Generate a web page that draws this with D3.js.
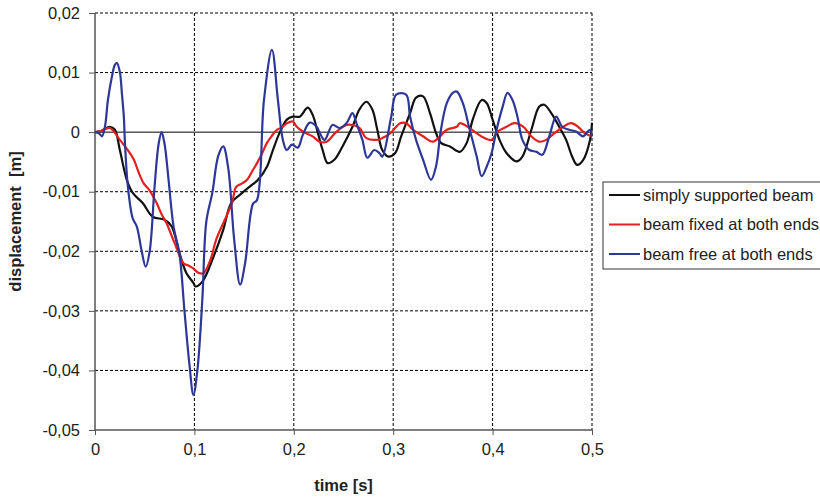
<!DOCTYPE html>
<html>
<head>
<meta charset="utf-8">
<script src="https://cdn.jsdelivr.net/npm/d3@7"></script>
<style>
  body { margin: 0; background: #fff; }
  text { font-family: "Liberation Sans", Arial, sans-serif; fill: #222; }
</style>
</head>
<body>
<div id="chart"></div>
<script>
// time [s] / displacement [m]
const simplySupported = [
  [0, 0], [0.006, 0.0002], [0.015, 0.0009], [0.020, 0.0004], [0.025, -0.003],
  [0.032, -0.008], [0.038, -0.0102], [0.048, -0.0119], [0.058, -0.0142],
  [0.070, -0.0147], [0.077, -0.0158], [0.085, -0.0203], [0.092, -0.0237],
  [0.099, -0.0253], [0.101, -0.0259], [0.108, -0.0251], [0.119, -0.021],
  [0.129, -0.0164], [0.137, -0.0119], [0.146, -0.0105], [0.156, -0.0091],
  [0.164, -0.008], [0.173, -0.0058], [0.179, -0.003], [0.186, 0], [0.193, 0.0021],
  [0.199, 0.0026], [0.206, 0.0026], [0.214, 0.0041], [0.219, 0.0029], [0.224, 0],
  [0.229, -0.003], [0.234, -0.0052], [0.241, -0.0046], [0.249, -0.0024],
  [0.259, 0.0009], [0.266, 0.0038], [0.273, 0.0051], [0.279, 0.0038],
  [0.284, 0.0004], [0.289, -0.003], [0.295, -0.0041], [0.302, -0.0035],
  [0.308, -0.0007], [0.317, 0.0032], [0.323, 0.0058], [0.330, 0.006],
  [0.337, 0.0032], [0.343, -0.0001], [0.348, -0.0018], [0.357, -0.0024],
  [0.367, -0.0033], [0.374, -0.0018], [0.380, 0.0021], [0.389, 0.0054],
  [0.394, 0.0049], [0.400, 0.0021], [0.407, -0.0013], [0.414, -0.0035],
  [0.424, -0.0049], [0.430, -0.0041], [0.439, 0.0004], [0.447, 0.0043],
  [0.452, 0.0046], [0.459, 0.0032], [0.467, 0.0009], [0.474, -0.0013],
  [0.480, -0.0041], [0.485, -0.0055], [0.491, -0.0047], [0.498, -0.0013],
  [0.5, 0.0016]
];

const fixedBothEnds = [
  [0, 0], [0.006, 0.0002], [0.015, 0.0007], [0.025, -0.0013], [0.032, -0.0028],
  [0.039, -0.0046], [0.044, -0.0068], [0.049, -0.0086], [0.055, -0.0098],
  [0.062, -0.0119], [0.067, -0.0138], [0.072, -0.0153], [0.080, -0.0186],
  [0.089, -0.022], [0.094, -0.0224], [0.099, -0.0229], [0.104, -0.0236],
  [0.109, -0.0237], [0.116, -0.0215], [0.122, -0.018], [0.132, -0.0142],
  [0.138, -0.0118], [0.142, -0.0092], [0.148, -0.0086], [0.153, -0.008],
  [0.158, -0.0066], [0.163, -0.0052], [0.168, -0.0036], [0.173, -0.0018],
  [0.178, -0.0006], [0.183, 0.0004], [0.188, 0.0008], [0.193, 0.0015],
  [0.199, 0.0018], [0.203, 0.0009], [0.209, 0.0001], [0.219, -0.0007],
  [0.226, -0.0016], [0.233, -0.0016], [0.243, 0.0001], [0.253, 0.0012],
  [0.259, 0.0012], [0.266, 0.0007], [0.273, -0.001], [0.283, -0.0013],
  [0.289, -0.001], [0.297, -0.0002], [0.307, 0.0015], [0.313, 0.0015],
  [0.320, 0.0004], [0.330, -0.0007], [0.340, -0.0016], [0.347, -0.0007],
  [0.354, 0.0004], [0.364, 0.0009], [0.367, 0.0015], [0.375, 0.0009],
  [0.384, -0.0002], [0.392, -0.001], [0.399, -0.0013], [0.405, 0.0001],
  [0.414, 0.0009], [0.422, 0.0015], [0.431, 0.0009], [0.439, -0.0007],
  [0.447, -0.0016], [0.454, -0.0013], [0.462, -0.0002], [0.471, 0.0009],
  [0.479, 0.0015], [0.486, 0.0009], [0.493, -0.0002], [0.5, -0.0007]
];

const freeBothEnds = [
  [0, 0], [0.004, -0.0002], [0.007, -0.0007], [0.010, 0.0009], [0.013, 0.0054],
  [0.017, 0.0093], [0.020, 0.0113], [0.022, 0.0116], [0.025, 0.0101],
  [0.027, 0.0066], [0.029, 0.0026], [0.030, -0.0013], [0.033, -0.009],
  [0.038, -0.0145], [0.042, -0.0158], [0.047, -0.020], [0.051, -0.0226],
  [0.055, -0.020], [0.060, -0.009], [0.064, -0.002], [0.067, 0.0],
  [0.070, -0.002], [0.074, -0.008], [0.079, -0.0158], [0.085, -0.0205],
  [0.090, -0.030], [0.095, -0.039], [0.099, -0.0441], [0.103, -0.040],
  [0.108, -0.028], [0.112, -0.015], [0.118, -0.0102], [0.124, -0.004],
  [0.129, -0.0024], [0.134, -0.006], [0.140, -0.018], [0.146, -0.0256],
  [0.151, -0.022], [0.159, -0.012], [0.163, -0.0114], [0.170, 0.0054],
  [0.178, 0.0138], [0.184, 0.0054], [0.189, -0.0013], [0.193, -0.003],
  [0.198, -0.0021], [0.204, -0.0026], [0.209, -0.0005], [0.216, 0.0016],
  [0.223, 0.0009], [0.226, -0.0001], [0.231, -0.0013], [0.239, 0.0012],
  [0.246, 0.0007], [0.253, 0.0015], [0.259, 0.0032], [0.263, 0.0015],
  [0.269, -0.0013], [0.274, -0.0043], [0.281, -0.003], [0.286, -0.0035],
  [0.289, -0.0041], [0.298, 0.0026], [0.303, 0.0063], [0.313, 0.0063],
  [0.317, 0.0026], [0.323, -0.0013], [0.330, -0.0046], [0.338, -0.008],
  [0.343, -0.0058], [0.348, 0.0004], [0.354, 0.0049], [0.360, 0.0066],
  [0.364, 0.0068], [0.370, 0.0049], [0.377, 0.0004], [0.384, -0.0041],
  [0.389, -0.0074], [0.394, -0.0058], [0.399, -0.0035], [0.404, 0.0004],
  [0.410, 0.0042], [0.415, 0.0066], [0.420, 0.0054], [0.425, 0.0026],
  [0.430, -0.0013], [0.437, -0.003], [0.444, -0.0033], [0.450, -0.0038],
  [0.457, -0.0007], [0.464, 0.0026], [0.470, 0.0009], [0.477, 0.0004],
  [0.484, 0.0001], [0.491, -0.0007], [0.498, 0.0004], [0.5, -0.0007]
];

const seriesNames = ["simply supported beam", "beam fixed at both ends", "beam free at both ends"];
const seriesColors = ["#111111", "#e3201e", "#2c3798"];
const seriesData = [simplySupported, fixedBothEnds, freeBothEnds];

const xTicks = [0, 0.1, 0.2, 0.3, 0.4, 0.5];
const yTicks = [0.02, 0.01, 0, -0.01, -0.02, -0.03, -0.04, -0.05];

const width = 820, height = 499;
const margin = { top: 13, right: 228, bottom: 69, left: 95 };
const fontSize = 16.5;

const svg = d3.select("#chart").append("svg")
  .attr("width", width)
  .attr("height", height);

const x = d3.scaleLinear().domain([0, 0.5]).range([margin.left, width - margin.right]);
const y = d3.scaleLinear().domain([-0.05, 0.02]).range([height - margin.bottom, margin.top]);

// decimal comma, plain hyphen for minus
const fmtX = (d) => (d === 0 ? "0" : d.toFixed(1).replace(".", ","));
const fmtY = (d) => (d === 0 ? "0" : d.toFixed(2).replace(".", ","));

// dashed gridlines (top and right edges included)
svg.append("g")
  .selectAll("line")
  .data(yTicks.filter((d) => d !== 0 && d !== -0.05))
  .join("line")
  .attr("x1", x(0)).attr("x2", x(0.5))
  .attr("y1", (d) => y(d)).attr("y2", (d) => y(d))
  .attr("stroke", "#000").attr("stroke-width", 1)
  .attr("stroke-dasharray", "3,2");

svg.append("g")
  .selectAll("line")
  .data(xTicks.filter((d) => d !== 0))
  .join("line")
  .attr("x1", (d) => x(d)).attr("x2", (d) => x(d))
  .attr("y1", y(0.02)).attr("y2", y(-0.05))
  .attr("stroke", "#000").attr("stroke-width", 1)
  .attr("stroke-dasharray", "3,2");

// zero line
svg.append("line")
  .attr("x1", x(0)).attr("x2", x(0.5))
  .attr("y1", y(0)).attr("y2", y(0))
  .attr("stroke", "#000").attr("stroke-width", 1);

// axes
const yAxis = d3.axisLeft(y).tickValues(yTicks).tickFormat(fmtY).tickSize(6).tickPadding(9);
const xAxis = d3.axisBottom(x).tickValues(xTicks).tickFormat(fmtX).tickSize(5).tickPadding(8);

const gy = svg.append("g").attr("transform", `translate(${x(0)},0)`).call(yAxis);
const gx = svg.append("g").attr("transform", `translate(0,${y(-0.05)})`).call(xAxis);
[gx, gy].forEach((g) => {
  g.select(".domain").attr("stroke", "#555").attr("stroke-width", 1.5);
  g.selectAll(".tick line").attr("stroke", "#555");
  g.selectAll(".tick text").attr("font-size", fontSize).attr("fill", "#222")
    .attr("font-family", "'Liberation Sans', Arial, sans-serif");
});
gx.select(".domain").attr("d", `M${x(0)},0H${x(0.5)}`);
gy.select(".domain").attr("d", `M0,${y(0.02)}V${y(-0.05)}`);

// curves
const line = d3.line()
  .x((d) => x(d[0]))
  .y((d) => y(d[1]))
  .curve(d3.curveCatmullRom.alpha(0.5));

seriesData.forEach((data, i) => {
  svg.append("path")
    .datum(data)
    .attr("fill", "none")
    .attr("stroke", seriesColors[i])
    .attr("stroke-width", 2.2)
    .attr("stroke-linejoin", "round")
    .attr("d", line);
});

// axis titles
svg.append("text")
  .attr("x", (x(0) + x(0.5)) / 2)
  .attr("y", 491)
  .attr("text-anchor", "middle")
  .attr("font-size", fontSize)
  .attr("font-weight", "bold")
  .text("time [s]");

svg.append("text")
  .attr("transform", `translate(21,${(y(0.02) + y(-0.05)) / 2}) rotate(-90)`)
  .attr("text-anchor", "middle")
  .attr("font-size", fontSize)
  .attr("font-weight", "bold")
  .style("white-space", "pre")
  .text("displacement  [m]");

// legend
const legend = svg.append("g");
legend.append("rect")
  .attr("x", 603).attr("y", 182)
  .attr("width", 230).attr("height", 87)
  .attr("fill", "#fff").attr("stroke", "#333").attr("stroke-width", 1);

seriesNames.forEach((name, i) => {
  const ly = 195 + i * 29.5;
  legend.append("line")
    .attr("x1", 609).attr("x2", 640)
    .attr("y1", ly).attr("y2", ly)
    .attr("stroke", seriesColors[i]).attr("stroke-width", 2);
  legend.append("text")
    .attr("x", 643).attr("y", ly)
    .attr("dy", "0.35em")
    .attr("font-size", fontSize)
    .text(name);
});
</script>
</body>
</html>
